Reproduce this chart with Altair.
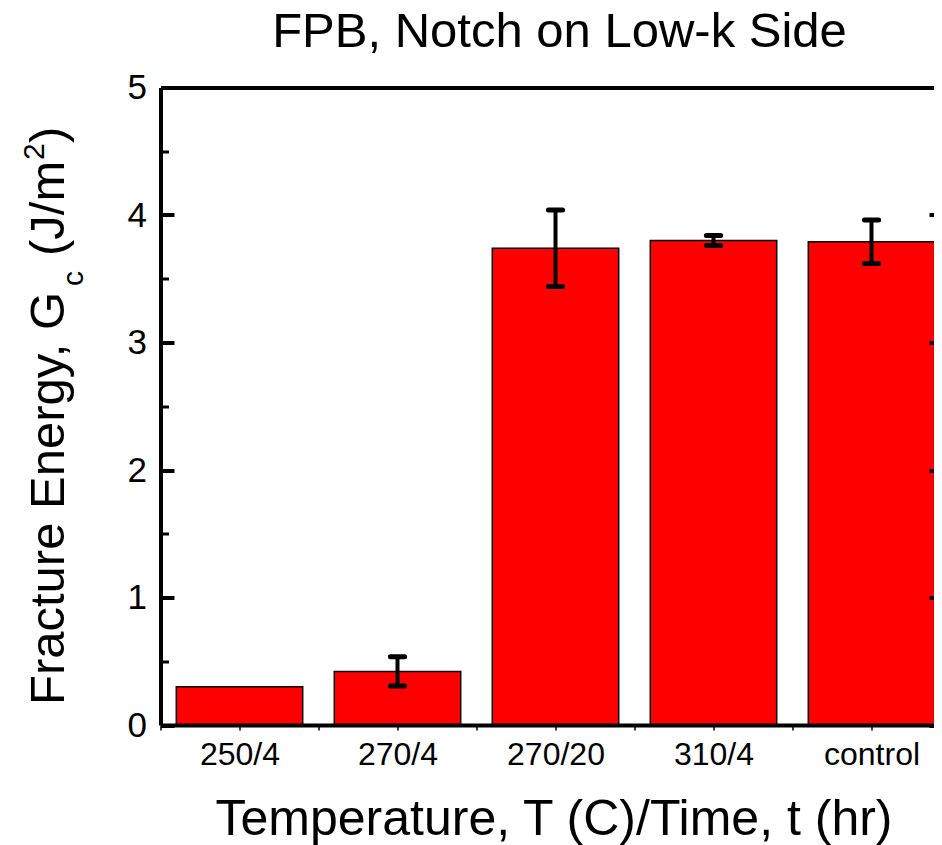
import json
import altair as alt
import pandas as pd

# ---------------- data ----------------
categories = ["250/4", "270/4", "270/20", "310/4", "control"]
energy = [0.30, 0.42, 3.74, 3.80, 3.79]
error = [None, 0.115, 0.30, 0.04, 0.17]
y_major = [0, 1, 2, 3, 4, 5]
y_minor = [0.5, 1.5, 2.5, 3.5, 4.5]
x_ticks = [0.5, 1, 1.5, 2, 2.5, 3, 3.5, 4, 4.5, 5]

title_text = "FPB, Notch on Low-k Side"
x_title = "Temperature, T (C)/Time, t (hr)"

FONT = "Liberation Sans"
PAD_L, PAD_T = 152.5, 79.5
W, H = 926 - PAD_L, 637.5
STEP = 158.0
XMAX = 0.5 + W / STEP

df = pd.DataFrame({"cat": categories, "energy": energy, "err": error})
df["idx"] = list(range(1, len(categories) + 1))

xs = alt.Scale(domain=[0.5, XMAX], nice=False, zero=False)
ys = alt.Scale(domain=[0, 5], nice=False, zero=True)

label_expr = json.dumps(categories) + "[round(datum.value) - 1]"

bars = alt.Chart(df).transform_calculate(
    x0="datum.idx - 0.4", x1="datum.idx + 0.4", base="0"
).mark_bar(color="#ff0000", stroke="black", strokeWidth=1.5).encode(
    x=alt.X("x0:Q", scale=xs, axis=alt.Axis(
        orient="bottom", values=[1, 2, 3, 4, 5], labelExpr=label_expr,
        ticks=False, tickSize=0, domain=True, domainColor="black", domainWidth=4,
        labelFont=FONT, labelFontSize=32, labelColor="black",
        labelBaseline="alphabetic", labelPadding=39, labelAlign="center",
        labelFlush=False, labelOverlap=False, grid=False, title=None, zindex=2)),
    x2="x1:Q",
    y=alt.Y("energy:Q", scale=ys, axis=alt.Axis(
        orient="left", values=y_major, ticks=False, tickSize=0,
        domain=True, domainWidth=4, domainColor="black",
        labelFont=FONT, labelFontSize=35, labelColor="black", labelPadding=14,
        labelFlush=False, labelOverlap=False, grid=False, title=None, zindex=2)),
    y2="base:Q",
)

err_base = alt.Chart(df).transform_filter("isValid(datum.err)").transform_calculate(
    lo="datum.energy - datum.err", hi="datum.energy + datum.err",
    c0="datum.idx - 0.045", c1="datum.idx + 0.045"
)

errs = err_base.mark_rule(color="black", strokeWidth=4).encode(
    x=alt.X("idx:Q", scale=xs, axis=alt.Axis(
        orient="bottom", values=x_ticks, labels=False, domain=False, ticks=True,
        tickSize=5, tickWidth=1.5, tickColor="black", grid=False, title=None)),
    y=alt.Y("lo:Q", scale=ys, axis=alt.Axis(
        orient="left", values=y_major, offset=-13.5, labels=False, domain=False,
        ticks=True, tickSize=13.5, tickWidth=4, tickColor="black", grid=False,
        title=None, zindex=2)),
    y2="hi:Q",
)

caps_hi = err_base.mark_rule(color="black", strokeWidth=5, strokeCap="round").encode(
    x=alt.X("c0:Q", scale=xs, axis=alt.Axis(
        orient="top", labels=False, ticks=False, domain=True, domainWidth=4,
        domainColor="black", grid=False, title=None, zindex=2)),
    x2="c1:Q",
    y=alt.Y("hi:Q", scale=ys, axis=alt.Axis(
        orient="left", values=y_minor, offset=-8, labels=False, domain=False,
        ticks=True, tickSize=8, tickWidth=3, tickColor="black", grid=False,
        title=None, zindex=2)),
)

caps_lo = err_base.mark_rule(color="black", strokeWidth=5, strokeCap="round").encode(
    x=alt.X("c0:Q", scale=xs, axis=None),
    x2="c1:Q",
    y=alt.Y("lo:Q", scale=ys, axis=alt.Axis(
        orient="right", values=y_major, offset=-5, labels=False, domain=False,
        ticks=True, tickSize=5, tickWidth=4, tickColor="black", grid=False,
        title=None, zindex=2)),
)

one = pd.DataFrame({"k": [0]})


def label(text, x, y, size, angle=0, align="left"):
    return alt.Chart(one).mark_text(
        text=text, angle=angle, align=align, baseline="alphabetic",
        font=FONT, fontSize=size, color="black"
    ).encode(x=alt.value(x), y=alt.value(y))


texts = [
    label(title_text, 399, -40.5, 49, align="center"),
    label(x_title, 393.5, H + 110, 50, align="center"),
    label("Fracture Energy, G", -96.5, 617.5, 49, angle=270),
    label("c", -77.5, 198.5, 30, angle=270),
    label("(J/m", -96.5, 168.5, 49, angle=270),
    label("2", -116.5, 72.5, 30, angle=270),
    label(")", -96.5, 55.5, 49, angle=270),
]

chart = alt.layer(bars, errs, caps_hi, caps_lo, *texts).resolve_axis(
    x="independent", y="independent"
).properties(
    width=W, height=H,
    autosize=alt.AutoSizeParams(type="none"),
    padding={"left": PAD_L, "top": PAD_T, "right": 0, "bottom": 120},
).configure_view(stroke=None)

chart.save("out.html", embed_options={"renderer": "svg", "actions": False})
